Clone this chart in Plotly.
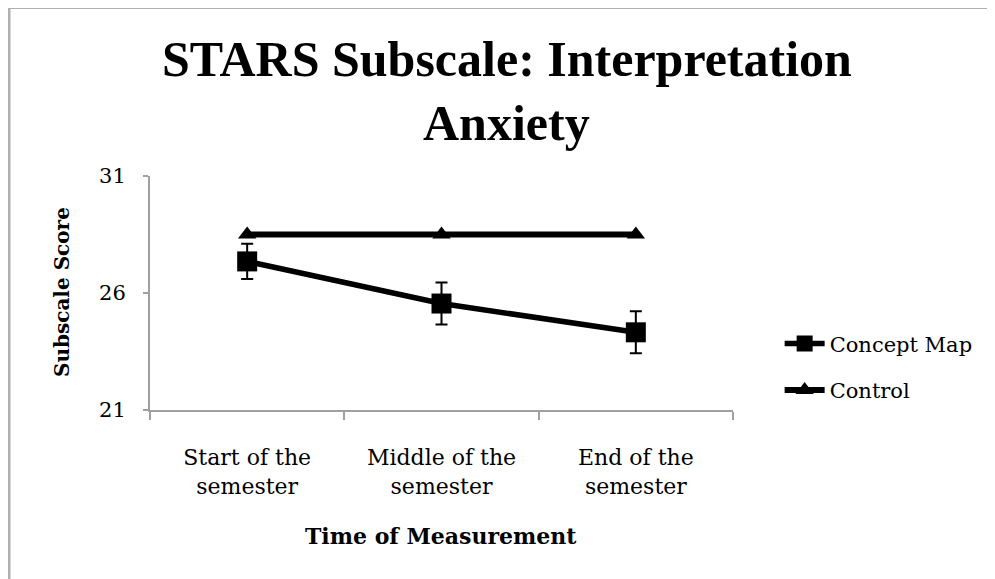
import plotly.graph_objects as go

categories = ["Start of the<br>semester", "Middle of the<br>semester", "End of the<br>semester"]
concept_map = [27.35, 25.55, 24.32]
concept_err = [0.75, 0.9, 0.9]
control = [28.5, 28.5, 28.5]
y_ticks = [21, 26, 31]

FONT = "DejaVu Serif"
TITLE_FONT = "Liberation Serif"

# plot area in screen pixels (page has 8px body margin)
PL, PR, PT, PB = 150, 733, 176, 410
PW, PH = PR - PL, PB - PT


def px(x):
    return (x - PL) / PW


def py(y):
    return (PB - y) / PH


fig = go.Figure()
fig.add_trace(go.Scatter(
    x=categories, y=concept_map, name="Concept Map", mode="lines+markers",
    legendgroup="a",
    line=dict(color="black", width=5.5),
    marker=dict(symbol="square", size=20, color="black"),
    error_y=dict(type="data", array=concept_err, visible=True, color="black", thickness=2, width=6),
))
fig.add_trace(go.Scatter(
    x=categories, y=control, name="Control", mode="lines+markers",
    legendgroup="b",
    line=dict(color="black", width=6),
    marker=dict(symbol="triangle-up", size=16, color="black"),
))

fig.update_layout(
    width=987, height=571,
    margin=dict(l=PL - 8, r=987 - (PL - 8) - PW, t=PT - 8, b=571 - (PT - 8) - PH),
    paper_bgcolor="white", plot_bgcolor="white",
    font=dict(family=FONT, color="black", size=20),
    showlegend=True,
    legend=dict(x=1.08, y=0.184, xanchor="left", yanchor="middle",
                font=dict(family=FONT, size=21), tracegroupgap=16,
                itemwidth=40, bgcolor="rgba(0,0,0,0)"),
    xaxis=dict(type="category", range=[-0.5, 2.5], automargin=False,
               showline=True, linecolor="#a0a0a0", linewidth=2,
               ticks="outside", tickson="boundaries", tickcolor="#a0a0a0", ticklen=8, tickwidth=1.5,
               ticklabelstandoff=27,
               showgrid=False, zeroline=False,
               tickfont=dict(family=FONT, size=22)),
    yaxis=dict(range=[21, 31], tickvals=y_ticks, automargin=False,
               showline=True, linecolor="#a0a0a0", linewidth=2,
               ticks="outside", tickcolor="#a0a0a0", ticklen=5, tickwidth=1.5,
               ticklabelstandoff=13,
               showgrid=False, zeroline=False,
               tickfont=dict(family=FONT, size=21)),
)

fig.add_annotation(
    text="<b>STARS Subscale: Interpretation</b>",
    xref="paper", yref="paper", x=px(507), y=py(59), xanchor="center", yanchor="middle",
    showarrow=False, font=dict(family=TITLE_FONT, size=50, color="black"),
)
fig.add_annotation(
    text="<b>Anxiety</b>",
    xref="paper", yref="paper", x=px(506), y=py(123), xanchor="center", yanchor="middle",
    showarrow=False, font=dict(family=TITLE_FONT, size=50, color="black"),
)
fig.add_annotation(
    text="<b>Time of Measurement</b>",
    xref="paper", yref="paper", x=px(441), y=py(536),
    xanchor="center", yanchor="middle",
    showarrow=False, font=dict(family=FONT, size=22, color="black"),
)
fig.add_annotation(
    text="<b>Subscale Score</b>", textangle=-90,
    xref="paper", yref="paper", x=px(62), y=py(292),
    xanchor="center", yanchor="middle",
    showarrow=False, font=dict(family=FONT, size=20, color="black"),
)

fig.add_shape(type="rect", xref="paper", yref="paper",
              x0=px(9), x1=px(1200), y0=py(800), y1=py(7.5),
              line=dict(color="#b0b0b0", width=3))

fig.write_html("out.html")
